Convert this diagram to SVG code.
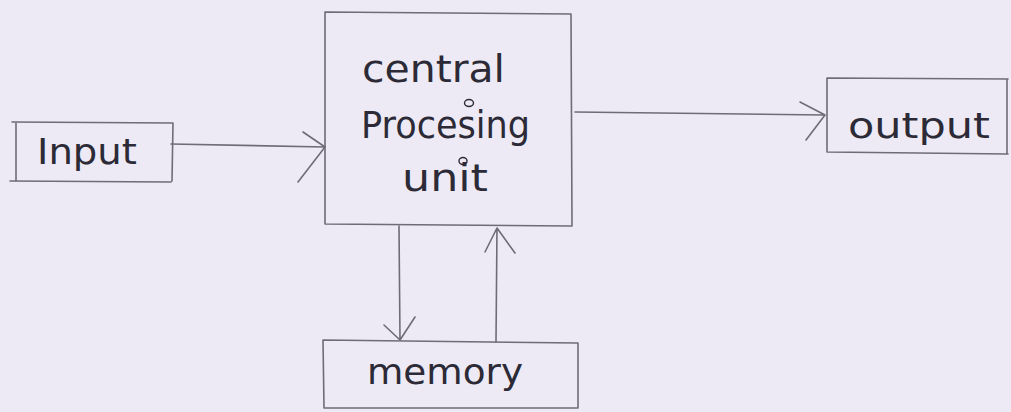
<svg xmlns="http://www.w3.org/2000/svg" width="1011" height="412" viewBox="0 0 1011 412">
  <style>
    .ln { fill: none; stroke: #6e6c78; stroke-width: 1.6; stroke-linecap: round; stroke-linejoin: round; }
    .hand { font-family: "DejaVu Sans", "Liberation Sans", sans-serif; fill: #2c2a36; }
    .dot { fill: none; stroke: #2c2a36; stroke-width: 1.4; }
  </style>
  <rect width="1011" height="412" fill="#edeaf5"/>

  <g id="input">
    <path class="ln" d="M12 122 L173 123 M16 122 L16 181 M173 123 L172 181 M10 181 L171 182"/>
    <text class="hand" x="37" y="164" font-size="35" textLength="100" lengthAdjust="spacingAndGlyphs">Input</text>
  </g>

  <g id="cpu">
    <path class="ln" d="M325 12 L571 14 L572 226 L325 224 Z"/>
    <text class="hand" x="362" y="82" font-size="37" textLength="143" lengthAdjust="spacingAndGlyphs">central</text>
    <ellipse class="dot" cx="469" cy="103" rx="4.5" ry="3.5"/>
    <text class="hand" x="361" y="138" font-size="37" textLength="169" lengthAdjust="spacingAndGlyphs">Procesing</text>
    <ellipse class="dot" cx="463" cy="161" rx="4" ry="3.5"/>
    <text class="hand" x="402" y="191" font-size="37" textLength="86" lengthAdjust="spacingAndGlyphs">unit</text>
  </g>

  <g id="output">
    <path class="ln" d="M827 78 L1008 79 M827 78 L827 152 M827 152 L1008 154 M1007 79 L1007 154"/>
    <text class="hand" x="848" y="138" font-size="36" textLength="142" lengthAdjust="spacingAndGlyphs">output</text>
  </g>

  <g id="memory">
    <path class="ln" d="M323 340 L578 343 L578 408 L324 408 Z"/>
    <text class="hand" x="367" y="384" font-size="36" textLength="156" lengthAdjust="spacingAndGlyphs">memory</text>
  </g>

  <g id="connectors">
    <!-- Input to CPU -->
    <path class="ln" d="M171 144 L325 147 M303 132 L325 147 L298 182"/>
    <!-- CPU to Output -->
    <path class="ln" d="M575 112 L825 115 M800 102 L825 115 L806 140"/>
    <!-- CPU down to memory -->
    <path class="ln" d="M399 226 L400 340 M384 325 L400 340 L415 317"/>
    <!-- memory up to CPU -->
    <path class="ln" d="M496 342 L497 228 M485 252 L497 228 L515 253"/>
  </g>
</svg>
